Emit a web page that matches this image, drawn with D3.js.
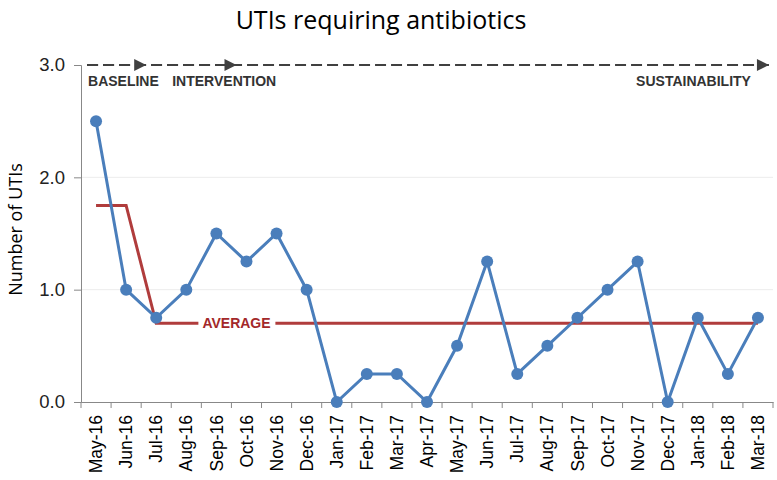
<!doctype html>
<html lang="en">
<head>
<meta charset="utf-8">
<title>UTIs requiring antibiotics</title>
<style>
  body { margin: 0; background: #fff; }
  svg { display: block; font-family: "Open Sans", "Liberation Sans", sans-serif; }
</style>
<script src="https://d3js.org/d3.v7.min.js"></script>
</head>
<body>
<div id="chart"></div>
<script>
// data
var months = ["May-16","Jun-16","Jul-16","Aug-16","Sep-16","Oct-16","Nov-16","Dec-16",
  "Jan-17","Feb-17","Mar-17","Apr-17","May-17","Jun-17","Jul-17","Aug-17","Sep-17",
  "Oct-17","Nov-17","Dec-17","Jan-18","Feb-18","Mar-18"];
var utis = [2.5,1.0,0.75,1.0,1.5,1.25,1.5,1.0,0,0.25,0.25,0,0.5,1.25,0.25,0.5,0.75,1.0,1.25,0,0.75,0.25,0.75];
var avgMonths = ["May-16","Jun-16","Jul-16","Mar-18"];
var avgValues = [1.75,1.75,0.7,0.7];
var yTicks = [0,1,2,3];
// phase arrows and their labels
var phaseEnds = ["Jul-16","Oct-16","Mar-18"];
var phaseLabels = ["BASELINE","INTERVENTION","SUSTAINABILITY"];
var phaseLabelMonths = ["May-16","Jul-16","Mar-18"];

var W = 777, H = 480;
var margin = {top: 65, right: 4, bottom: 78, left: 81};
var width = W - margin.left - margin.right,
    height = H - margin.top - margin.bottom;

var svg = d3.select("#chart").append("svg")
  .attr("width", W).attr("height", H);

var g = svg.append("g")
  .attr("transform", "translate(" + margin.left + "," + margin.top + ")");

var x = d3.scaleBand().domain(months).range([0, width]);
var y = d3.scaleLinear().domain([0, 3]).range([height, 0]);
var cx = function(m) { return x(m) + x.bandwidth() / 2; };

// title
svg.append("text")
  .attr("x", 381).attr("y", 29)
  .attr("text-anchor", "middle")
  .attr("font-size", "25px")
  .attr("fill", "#000")
  .text("UTIs requiring antibiotics");

// faint gridlines
g.selectAll(".grid").data([1, 2]).enter().append("line")
  .attr("x1", 0).attr("x2", width)
  .attr("y1", function(d) { return y(d); })
  .attr("y2", function(d) { return y(d); })
  .attr("stroke", "#ececec").attr("stroke-width", 1);

// y axis
var yAxis = g.append("g")
  .call(d3.axisLeft(y).tickValues(yTicks).tickFormat(d3.format(".1f")).tickSize(7).tickPadding(9));
yAxis.select(".domain").attr("stroke", "#888");
yAxis.selectAll(".tick line").attr("stroke", "#888");
yAxis.selectAll("text").attr("font-size", "18.5px").attr("fill", "#222")
  .attr("font-family", "Liberation Sans, sans-serif");

// x axis
var xAxis = g.append("g")
  .attr("transform", "translate(0," + height + ")")
  .call(d3.axisBottom(x).tickSize(0));
xAxis.select(".domain").attr("stroke", "#888");
xAxis.selectAll("text")
  .attr("font-size", "17.5px").attr("fill", "#000")
  .attr("font-family", "Liberation Sans, sans-serif")
  .attr("transform", "rotate(-90)")
  .attr("text-anchor", "end")
  .attr("x", -13).attr("y", 0).attr("dy", "0.35em");
// ticks between categories
g.append("g").selectAll("line")
  .data(d3.range(months.length + 1)).enter().append("line")
  .attr("x1", function(i) { return i * x.step(); })
  .attr("x2", function(i) { return i * x.step(); })
  .attr("y1", height).attr("y2", height + 6)
  .attr("stroke", "#888");

// y axis title
svg.append("text")
  .attr("transform", "translate(22," + (margin.top + height / 2 - 4) + ") rotate(-90)")
  .attr("text-anchor", "middle")
  .attr("font-size", "18px").attr("fill", "#000")
  .text("Number of UTIs");

// phase arrows
var arrowStart = cx(months[0]) - 9;
var arrowTip = function(m, i) { return i === phaseEnds.length - 1 ? cx(m) + 11 : cx(m) - 10; };
g.selectAll(".phase").data(phaseEnds).enter().append("line")
  .attr("x1", arrowStart)
  .attr("x2", arrowTip)
  .attr("y1", y(3)).attr("y2", y(3))
  .attr("stroke", "#404040").attr("stroke-width", 2)
  .attr("stroke-dasharray", "11,5");

// arrowheads
g.selectAll(".head").data(phaseEnds).enter().append("path")
  .attr("d", function(m, i) {
    var tip = arrowTip(m, i);
    return "M" + (tip - 12) + "," + (y(3) - 6) + "L" + tip + "," + y(3) + "L" + (tip - 12) + "," + (y(3) + 6) + "Z";
  })
  .attr("fill", "#404040");

g.selectAll(".phaselabel").data(phaseLabels).enter().append("text")
  .attr("x", function(p, i) {
    var m = phaseLabelMonths[i];
    if (i === 0) return cx(m) - 8;
    if (i === 1) return cx(m) + 16;
    return cx(m) - 7;
  })
  .attr("y", y(3) + 21)
  .attr("text-anchor", function(p, i) { return i === 2 ? "end" : "start"; })
  .attr("font-family", "Liberation Sans, Arial, sans-serif")
  .attr("font-weight", "bold").attr("font-size", "14px")
  .attr("fill", "#333")
  .text(function(p) { return p; });

// average line
var avgData = avgMonths.map(function(m, i) { return {m: m, v: avgValues[i]}; });
g.append("path")
  .datum(avgData)
  .attr("fill", "none")
  .attr("stroke", "#b03c3c").attr("stroke-width", 3)
  .attr("d", d3.line().x(function(d) { return cx(d.m); }).y(function(d) { return y(d.v); }));

// AVERAGE label with white background
var avgLabel = g.append("g")
  .attr("transform", "translate(" + (cx("Sep-16") - 14) + "," + y(0.7) + ")");
avgLabel.append("rect")
  .attr("x", -4).attr("y", -9).attr("width", 77).attr("height", 18)
  .attr("fill", "#fff");
avgLabel.append("text")
  .attr("x", 0).attr("y", 0).attr("dy", "0.36em")
  .attr("font-family", "Liberation Sans, Arial, sans-serif")
  .attr("font-weight", "bold").attr("font-size", "14px")
  .attr("fill", "#a3282a")
  .text("AVERAGE");

// UTI series
var series = months.map(function(m, i) { return {m: m, v: utis[i]}; });
g.append("path")
  .datum(series)
  .attr("fill", "none")
  .attr("stroke", "#4a7ebb").attr("stroke-width", 3)
  .attr("d", d3.line().x(function(d) { return cx(d.m); }).y(function(d) { return y(d.v); }));

g.selectAll(".pt").data(series).enter().append("circle")
  .attr("cx", function(d) { return cx(d.m); })
  .attr("cy", function(d) { return y(d.v); })
  .attr("r", 6)
  .attr("fill", "#4a7ebb");
</script>
</body>
</html>
